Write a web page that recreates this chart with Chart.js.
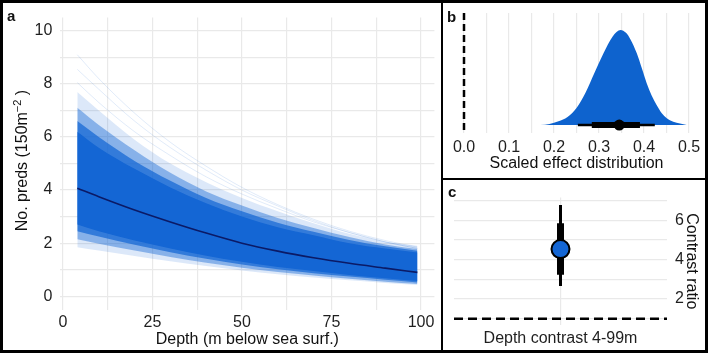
<!DOCTYPE html>
<html lang="en">
<head>
<meta charset="UTF-8">
<title>Predator density by depth</title>
<script src="https://cdn.jsdelivr.net/npm/chart.js"></script>
<style>
  body { margin: 0; background: #fff; }
  .figure { position: relative; width: 709px; height: 356px; background: #fff; }
  .figure canvas { position: absolute; }
  #chartA { left: 0; top: 0; }
  #chartB { left: 443px; top: 0; }
  #chartC { left: 443px; top: 180px; }
  .rule { position: absolute; background: #000; }
</style>
</head>
<body>
<div class="figure">
  <canvas id="chartA" width="441" height="356"></canvas>
  <canvas id="chartB" width="263" height="178"></canvas>
  <canvas id="chartC" width="263" height="176"></canvas>
  <div class="rule" style="left:0;top:0;width:708px;height:3px"></div>
  <div class="rule" style="left:0;top:350px;width:708px;height:3px"></div>
  <div class="rule" style="left:0;top:0;width:3px;height:353px"></div>
  <div class="rule" style="left:705px;top:0;width:3px;height:353px"></div>
  <div class="rule" style="left:441px;top:0;width:2px;height:353px"></div>
  <div class="rule" style="left:441px;top:178px;width:267px;height:2px"></div>
</div>

<script>
    // ---- panel a: predictions against depth ----
    const depth = [4, 10, 20, 30, 40, 50, 60, 70, 80, 90, 99];
    const predMedian = [4.07, 3.75, 3.25, 2.80, 2.38, 2.00, 1.70, 1.45, 1.24, 1.06, 0.90];
    // band edges (core -> outer fringe)
    const coreHi  = [6.2, 5.6, 4.8, 4.1, 3.5, 3.0, 2.6, 2.3, 2.0, 1.8, 1.65];
    const coreLo  = [2.7, 2.45, 2.1, 1.8, 1.53, 1.3, 1.1, 0.95, 0.8, 0.68, 0.57];
    const midHi   = [6.6, 6.0, 5.1, 4.35, 3.7, 3.2, 2.77, 2.43, 2.12, 1.88, 1.71];
    const midLo   = [2.45, 2.25, 1.94, 1.66, 1.41, 1.2, 1.02, 0.87, 0.74, 0.62, 0.52];
    const lightHi = [7.1, 6.45, 5.5, 4.65, 3.95, 3.42, 2.95, 2.57, 2.23, 1.95, 1.78];
    const lightLo = [2.15, 1.98, 1.72, 1.48, 1.26, 1.07, 0.91, 0.78, 0.66, 0.55, 0.46];
    const fringeHi = [7.7, 7.0, 5.9, 5.0, 4.3, 3.7, 3.2, 2.75, 2.35, 2.05, 1.9];
    const fringeLo = [1.85, 1.72, 1.52, 1.32, 1.14, 0.97, 0.83, 0.71, 0.6, 0.5, 0.42];
    // a few stray draws above the band
    const drawA = [9.1, 8.2, 6.9, 5.8, 4.9, 4.1, 3.45, 2.9, 2.45, 2.1, 1.85];
    const drawB = [8.55, 7.8, 6.6, 5.6, 4.75, 4.0, 3.4, 2.85, 2.4, 2.05, 1.8];
    const drawC = [8.05, 7.3, 6.2, 5.3, 4.5, 3.85, 3.3, 2.8, 2.4, 2.05, 1.8];
    const aXTicks = [0, 12.5, 25, 37.5, 50, 62.5, 75, 87.5, 100];
    const aYTicks = [0, 1, 2, 3, 4, 5, 6, 7, 8, 9, 10];

    // ---- panel b: scaled effect distribution ----
    const effectX = [0.17, 0.19, 0.21, 0.23, 0.25, 0.27, 0.29, 0.31, 0.33, 0.348, 0.36, 0.37, 0.384, 0.395, 0.406, 0.417, 0.428, 0.44, 0.45, 0.465, 0.48, 0.495];
    const effectDensity = [0, 0.012, 0.04, 0.085, 0.18, 0.34, 0.55, 0.755, 0.93, 1.0, 0.97, 0.9, 0.755, 0.6, 0.44, 0.31, 0.21, 0.12, 0.074, 0.035, 0.015, 0];
    const effectInterval95 = [0.253, 0.424];
    const effectInterval66 = [0.284, 0.391];
    const effectMedian = 0.345;
    const effectRef = 0;
    const bXTicks = [0, 0.05, 0.1, 0.15, 0.2, 0.25, 0.3, 0.35, 0.4, 0.45, 0.5];

    // ---- panel c: contrast ratio ----
    const contrastLabel = ['Depth contrast 4-99m'];
    const contrastMedian = [4.54];
    const contrastInterval66 = [3.23, 5.85];
    const contrastInterval95 = [2.66, 6.78];
    const contrastRef = 1;
    const cYTicks = [1, 2, 3, 4, 5, 6, 7];

    const FONT = '"Liberation Sans", Arial, sans-serif';
    const BLUE = 'rgb(20, 102, 212)';
    const GRID = '#e9e9e9';
    Chart.defaults.font.family = FONT;
    Chart.defaults.color = '#1f1f1f';
    Chart.defaults.animation = false;

    function pts(ys) {
        return depth.map((x, i) => ({ x: x, y: ys[i] }));
    }

    function band(hi, lo, color) {
        return [
            { data: pts(hi), fill: '+1', backgroundColor: color, borderWidth: 0, pointRadius: 0, cubicInterpolationMode: 'monotone' },
            { data: pts(lo), fill: false, borderWidth: 0, pointRadius: 0, cubicInterpolationMode: 'monotone' }
        ];
    }

    function strayLine(ys) {
        return { data: pts(ys), fill: false, borderColor: 'rgba(20, 102, 212, 0.13)', borderWidth: 1, pointRadius: 0, cubicInterpolationMode: 'monotone' };
    }

    function textPlugin(draw) {
        return {
            id: 'texts',
            afterDraw(chart) {
                const ctx = chart.ctx;
                ctx.save();
                ctx.fillStyle = '#111';
                draw(ctx, chart.chartArea, chart);
                ctx.restore();
            }
        };
    }

    // Panel a
    new Chart(document.getElementById('chartA'), {
        type: 'line',
        data: {
            datasets: [
                { data: pts(predMedian), fill: false, borderColor: '#0b1a66', borderWidth: 1.6, pointRadius: 0, cubicInterpolationMode: 'monotone' },
                ...band(coreHi, coreLo, BLUE),
                ...band(midHi, midLo, 'rgba(20, 102, 212, 0.72)'),
                ...band(lightHi, lightLo, 'rgba(20, 102, 212, 0.42)'),
                ...band(fringeHi, fringeLo, 'rgba(20, 102, 212, 0.15)'),
                strayLine(drawA),
                strayLine(drawB),
                strayLine(drawC)
            ]
        },
        options: {
            responsive: false,
            maintainAspectRatio: false,
            layout: { padding: { left: 0, right: 6.6, top: 11.5, bottom: 0 } },
            plugins: { legend: { display: false }, tooltip: { enabled: false } },
            scales: {
                x: {
                    type: 'linear', min: -0.75, max: 103.75,
                    afterBuildTicks: s => { s.ticks = aXTicks.map(v => ({ value: v })); },
                    afterFit: s => { s.height = 46.5; },
                    grid: { color: GRID, lineWidth: 1.2, drawTicks: false },
                    border: { display: false },
                    ticks: { autoSkip: false, maxRotation: 0, padding: 3.4, font: { size: 16 },
                        callback: v => (v % 25 === 0 ? v : '') }
                },
                y: {
                    min: -0.5, max: 10.5,
                    afterBuildTicks: s => { s.ticks = aYTicks.map(v => ({ value: v })); },
                    afterFit: s => { s.width = 60.3; },
                    grid: { color: GRID, lineWidth: 1.2, drawTicks: false },
                    border: { display: false },
                    ticks: { autoSkip: false, padding: 8, font: { size: 16 },
                        callback: v => (v % 2 === 0 ? v : '') }
                }
            }
        },
        plugins: [textPlugin((ctx, area) => {
            ctx.font = 'bold 15px ' + FONT;
            ctx.textAlign = 'left';
            ctx.fillText('a', 7, 21);

            ctx.font = '16px ' + FONT;
            ctx.textAlign = 'center';
            ctx.fillText('Depth (m below sea surf.)', (area.left + area.right) / 2, 344);

            // y title with superscript
            const big = '16px ' + FONT, small = '11px ' + FONT;
            const parts = [['No. preds (150m', big, 0], ['\u22122', small, -6.5], [' )', big, 0]];
            let total = 0;
            parts.forEach(p => { ctx.font = p[1]; total += ctx.measureText(p[0]).width; });
            ctx.translate(27, (area.top + area.bottom) / 2 - 3);
            ctx.rotate(-Math.PI / 2);
            ctx.textAlign = 'left';
            let x = -total / 2;
            parts.forEach(p => {
                ctx.font = p[1];
                ctx.fillText(p[0], x, p[2]);
                x += ctx.measureText(p[0]).width;
            });
        })]
    });

    // Panel b
    new Chart(document.getElementById('chartB'), {
        type: 'line',
        data: {
            datasets: [
                { data: [{ x: effectMedian, y: 0 }], showLine: false, pointRadius: 5.5, pointBackgroundColor: '#000', pointBorderWidth: 0 },
                { data: effectInterval66.map(v => ({ x: v, y: 0 })), borderColor: '#000', borderWidth: 6, borderCapStyle: 'butt', pointRadius: 0 },
                { data: effectInterval95.map(v => ({ x: v, y: 0 })), borderColor: '#000', borderWidth: 2.5, borderCapStyle: 'butt', pointRadius: 0 },
                { data: effectX.map((x, i) => ({ x: x, y: effectDensity[i] })), fill: 'origin', backgroundColor: 'rgb(14, 99, 206)', borderWidth: 0, pointRadius: 0, cubicInterpolationMode: 'monotone' }
            ]
        },
        options: {
            responsive: false,
            maintainAspectRatio: false,
            layout: { padding: { left: 9.75, right: 5.75, top: 13, bottom: 0 } },
            plugins: { legend: { display: false }, tooltip: { enabled: false } },
            scales: {
                x: {
                    type: 'linear', min: -0.025, max: 0.525,
                    afterBuildTicks: s => { s.ticks = bXTicks.map(v => ({ value: v })); },
                    afterFit: s => { s.height = 45; },
                    grid: { color: GRID, lineWidth: 1.2, drawTicks: false },
                    border: { display: false },
                    ticks: { autoSkip: false, maxRotation: 0, padding: 4.9, font: { size: 16 },
                        callback: v => (Math.round(v * 100) % 10 === 0 ? v.toFixed(1) : '') }
                },
                y: { display: false, min: -0.084, max: 1.179 }
            }
        },
        plugins: [{
            id: 'refLine',
            beforeDatasetsDraw(chart) {
                const ctx = chart.ctx, a = chart.chartArea;
                const px = chart.scales.x.getPixelForValue(effectRef);
                ctx.save();
                ctx.strokeStyle = '#000';
                ctx.lineWidth = 2.5;
                ctx.setLineDash([7, 4]);
                ctx.beginPath();
                ctx.moveTo(px, a.top);
                ctx.lineTo(px, a.bottom);
                ctx.stroke();
                ctx.restore();
            }
        }, textPlugin((ctx, area) => {
            ctx.font = 'bold 15px ' + FONT;
            ctx.textAlign = 'left';
            ctx.fillText('b', 4, 21.5);
            ctx.font = '16px ' + FONT;
            ctx.textAlign = 'center';
            ctx.fillText('Scaled effect distribution', (area.left + area.right) / 2, 167.5);
        })]
    });

    // Panel c
    new Chart(document.getElementById('chartC'), {
        type: 'line',
        data: {
            labels: contrastLabel,
            datasets: [
                { data: contrastLabel.map((c, i) => ({ x: c, y: contrastMedian[i] })), showLine: false, pointRadius: 9, pointBackgroundColor: BLUE, pointBorderColor: '#000', pointBorderWidth: 2 },
                { data: contrastInterval66.map(v => ({ x: contrastLabel[0], y: v })), borderColor: '#000', borderWidth: 7, borderCapStyle: 'butt', pointRadius: 0 },
                { data: contrastInterval95.map(v => ({ x: contrastLabel[0], y: v })), borderColor: '#000', borderWidth: 3, borderCapStyle: 'butt', pointRadius: 0 }
            ]
        },
        options: {
            responsive: false,
            maintainAspectRatio: false,
            layout: { padding: { left: 9, right: 0, top: 5, bottom: 0 } },
            plugins: { legend: { display: false }, tooltip: { enabled: false } },
            scales: {
                x: {
                    type: 'category', offset: true,
                    afterFit: s => { s.height = 31; },
                    grid: { color: GRID, lineWidth: 1.2, drawTicks: false, offset: false },
                    border: { display: false },
                    ticks: { padding: 3.7, font: { size: 16 } }
                },
                y: {
                    position: 'right', min: 0.68, max: 7.16,
                    afterBuildTicks: s => { s.ticks = cYTicks.map(v => ({ value: v })); },
                    afterFit: s => { s.width = 39; },
                    grid: { color: GRID, lineWidth: 1.2, drawTicks: false },
                    border: { display: false },
                    ticks: { autoSkip: false, padding: 8, font: { size: 16 },
                        callback: v => (v % 2 === 0 ? v : '') }
                }
            }
        },
        plugins: [{
            id: 'refLine',
            beforeDatasetsDraw(chart) {
                const ctx = chart.ctx, a = chart.chartArea;
                const py = chart.scales.y.getPixelForValue(contrastRef);
                ctx.save();
                ctx.strokeStyle = '#000';
                ctx.lineWidth = 2.5;
                ctx.setLineDash([9, 5]);
                ctx.beginPath();
                ctx.moveTo(a.left, py);
                ctx.lineTo(a.right, py);
                ctx.stroke();
                ctx.restore();
            }
        }, textPlugin((ctx, area) => {
            ctx.font = 'bold 15px ' + FONT;
            ctx.textAlign = 'left';
            ctx.fillText('c', 5, 16.5);
            ctx.font = '16px ' + FONT;
            ctx.textAlign = 'center';
            ctx.translate(244, (area.top + area.bottom) / 2);
            ctx.rotate(Math.PI / 2);
            ctx.fillText('Contrast ratio', 0, 0);
        })]
    });
</script>
</body>
</html>
